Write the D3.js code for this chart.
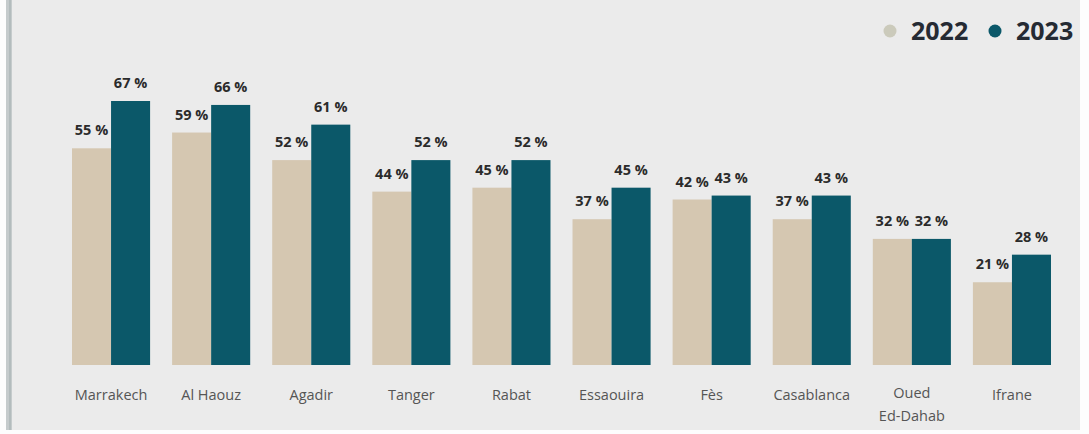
<!DOCTYPE html>
<html><head><meta charset="utf-8">
<script src="https://cdn.jsdelivr.net/npm/d3@7/dist/d3.min.js"></script>
<style>
html,body{margin:0;padding:0;background:#fff;}
svg{display:block;}
</style></head>
<body>
<svg id="chart" width="1089" height="434"></svg>
<script>
const categories = ["Marrakech","Al Haouz","Agadir","Tanger","Rabat","Essaouira","Fès","Casablanca","Oued\nEd-Dahab","Ifrane"];
const years = ["2022","2023"];
const values2022 = [55,59,52,44,45,37,42,37,32,21];
const values2023 = [67,66,61,52,52,45,43,43,32,28];
const colors = {"2022":"#d5c7b1","2023":"#0b5869"};
const legendColors = {"2022":"#cbcabb","2023":"#0b5869"};

const svg = d3.select("#chart");
const W = 1089, H = 434;
svg.append("rect").attr("x",0).attr("y",0).attr("width",W).attr("height",H).attr("fill","#fdfdfd");
svg.append("rect").attr("x",6).attr("y",0).attr("width",1074).attr("height",430).attr("fill","#ebebeb");
svg.append("rect").attr("x",6).attr("y",0).attr("width",6).attr("height",430).attr("fill","#c5cbcc");
svg.append("rect").attr("x",9).attr("y",0).attr("width",2).attr("height",430).attr("fill","#b3bcbd");

const data = categories.map((c,i)=>({cat:c, v:{"2022":values2022[i],"2023":values2023[i]}}));

const x0 = d3.scaleBand().domain(categories).range([61,1062]).paddingInner(0.22).paddingOuter(0.11);
const x1 = d3.scaleBand().domain(years).range([0,x0.bandwidth()]).padding(0);
const y = d3.scaleLinear().domain([0,67]).range([365,101]);

const g = svg.append("g");
const groups = g.selectAll("g.grp").data(data).join("g").attr("class","grp")
  .attr("transform",d=>`translate(${x0(d.cat)},0)`);

groups.selectAll("rect").data(d=>years.map(yr=>({yr,val:d.v[yr]}))).join("rect")
  .attr("x",d=>x1(d.yr)).attr("width",x1.bandwidth())
  .attr("y",d=>y(d.val)).attr("height",d=>y(0)-y(d.val))
  .attr("fill",d=>colors[d.yr]);

groups.selectAll("text.val").data(d=>years.map(yr=>({yr,val:d.v[yr]}))).join("text")
  .attr("class","val")
  .attr("x",d=>x1(d.yr)+x1.bandwidth()/2)
  .attr("y",d=>y(d.val)-13)
  .attr("text-anchor","middle")
  .attr("font-family","'Open Sans', sans-serif")
  .attr("font-weight","bold").attr("font-size",14.5).attr("fill","#2b2b2b")
  .text(d=>d.val+" %");

// category axis labels
const xAxis = d3.axisBottom(x0).tickSize(0).tickPadding(0).tickFormat("");
const axisG = svg.append("g").attr("transform",`translate(0,${y(0)})`).call(xAxis);
axisG.select(".domain").remove();
axisG.selectAll(".tick").each(function(d){
  const lines = d.split("\n");
  const t = d3.select(this).append("text")
    .attr("text-anchor","middle")
    .attr("font-family","'Open Sans', sans-serif")
    .attr("font-size",14.5).attr("fill","#555555");
  lines.forEach((ln,i)=>{
    t.append("tspan").attr("x",0).attr("y", lines.length>1 ? 33+i*23 : 35).text(ln);
  });
});

// legend
const legend = svg.append("g");
const legItems = [{yr:"2022",cx:890,tx:911},{yr:"2023",cx:995,tx:1016}];
legItems.forEach(it=>{
  legend.append("circle").attr("cx",it.cx).attr("cy",31).attr("r",6.5).attr("fill",legendColors[it.yr]);
  legend.append("text").attr("x",it.tx).attr("y",40)
    .attr("font-family","'Open Sans', sans-serif").attr("font-weight","bold")
    .attr("font-size",25).attr("fill","#252a33").text(it.yr);
});
</script>
</body></html>
